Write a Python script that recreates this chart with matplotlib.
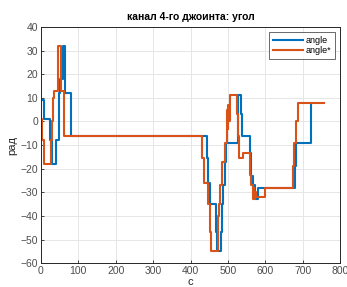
import numpy as np
import matplotlib
matplotlib.use('Agg')
import matplotlib.pyplot as plt

plt.rcParams['font.family'] = ['Liberation Sans', 'DejaVu Sans']

# ступенчатые данные: момент времени и значение (steps-post)
t_angle = [0, 8, 25, 29, 41, 47, 52, 60, 64, 81,
           443, 446, 452, 468, 470, 481, 484, 487, 491, 496, 526, 534, 538,
           559, 563, 568, 573, 580, 680, 683, 722, 725]
v_angle = [9, 1, -8, -18, -8, 12, 18, 32, 12, -6,
           -15.6, -26, -35, -47, -55, -47, -35, -27, -17, -9, 11, 3, -6,
           -13.5, -23, -27, -33, -28, -19, -9, 8, 8]

t_ref = [0, 3, 8, 26, 29, 31, 34, 46, 53, 62,
         430, 437, 446, 451, 456, 473, 475, 480, 483, 491, 497, 499, 501, 503, 506,
         524, 527, 530, 540, 559, 563, 567, 569, 571, 573, 576, 600,
         674, 677, 681, 687, 758]
v_ref = [1, -8, -18, -8, 0, 10, 13, 32, 13, -6,
         -15.6, -26, -35, -46.6, -55, -40, -35, -27, -17, -9, 5, -3, 7, 0, 11,
         3, -6, -15.6, -13.5, -22.7, -27, -33, -28, -33, -30, -32, -28,
         -19, -9, 0, 8, 8]

blue = '#0072BD'
orange = '#D95319'

fig = plt.figure(figsize=(3.47, 2.87), dpi=100)
ax = fig.add_axes([0.118, 0.083, 0.862, 0.823])

ax.plot(t_angle, v_angle, drawstyle='steps-post', color=blue, lw=1.5, label='angle')
ax.plot(t_ref, v_ref, drawstyle='steps-post', color=orange, lw=1.5, label='angle*')

ax.set_xlim(0, 800)
ax.set_ylim(-60, 40)
ax.set_xticks(np.arange(0, 801, 100))
ax.set_yticks(np.arange(-60, 41, 10))
ax.grid(True, color='#e6e6e6', lw=0.7)
ax.set_axisbelow(True)
ax.tick_params(direction='in', labelsize=7.5, colors='#262626', labelcolor='#4d4d4d',
               length=2.5, width=0.6, pad=2)
for s in ax.spines.values():
    s.set_color('#262626')
    s.set_linewidth(0.7)

ax.set_title('канал 4-го джоинта: угол', fontsize=7.5, fontweight='bold', pad=5)
ax.set_xlabel('с', fontsize=8, color='#262626', labelpad=1)
ax.set_ylabel('рад', fontsize=8, color='#262626', labelpad=2)

leg = ax.legend(loc='upper right', fontsize=6.5, frameon=True, fancybox=False,
                edgecolor='#262626', handlelength=3.3, borderaxespad=0.6,
                handletextpad=0.3, labelspacing=0.1, borderpad=0.4)
leg.get_frame().set_linewidth(0.6)

fig.savefig('out.png', dpi=100)
